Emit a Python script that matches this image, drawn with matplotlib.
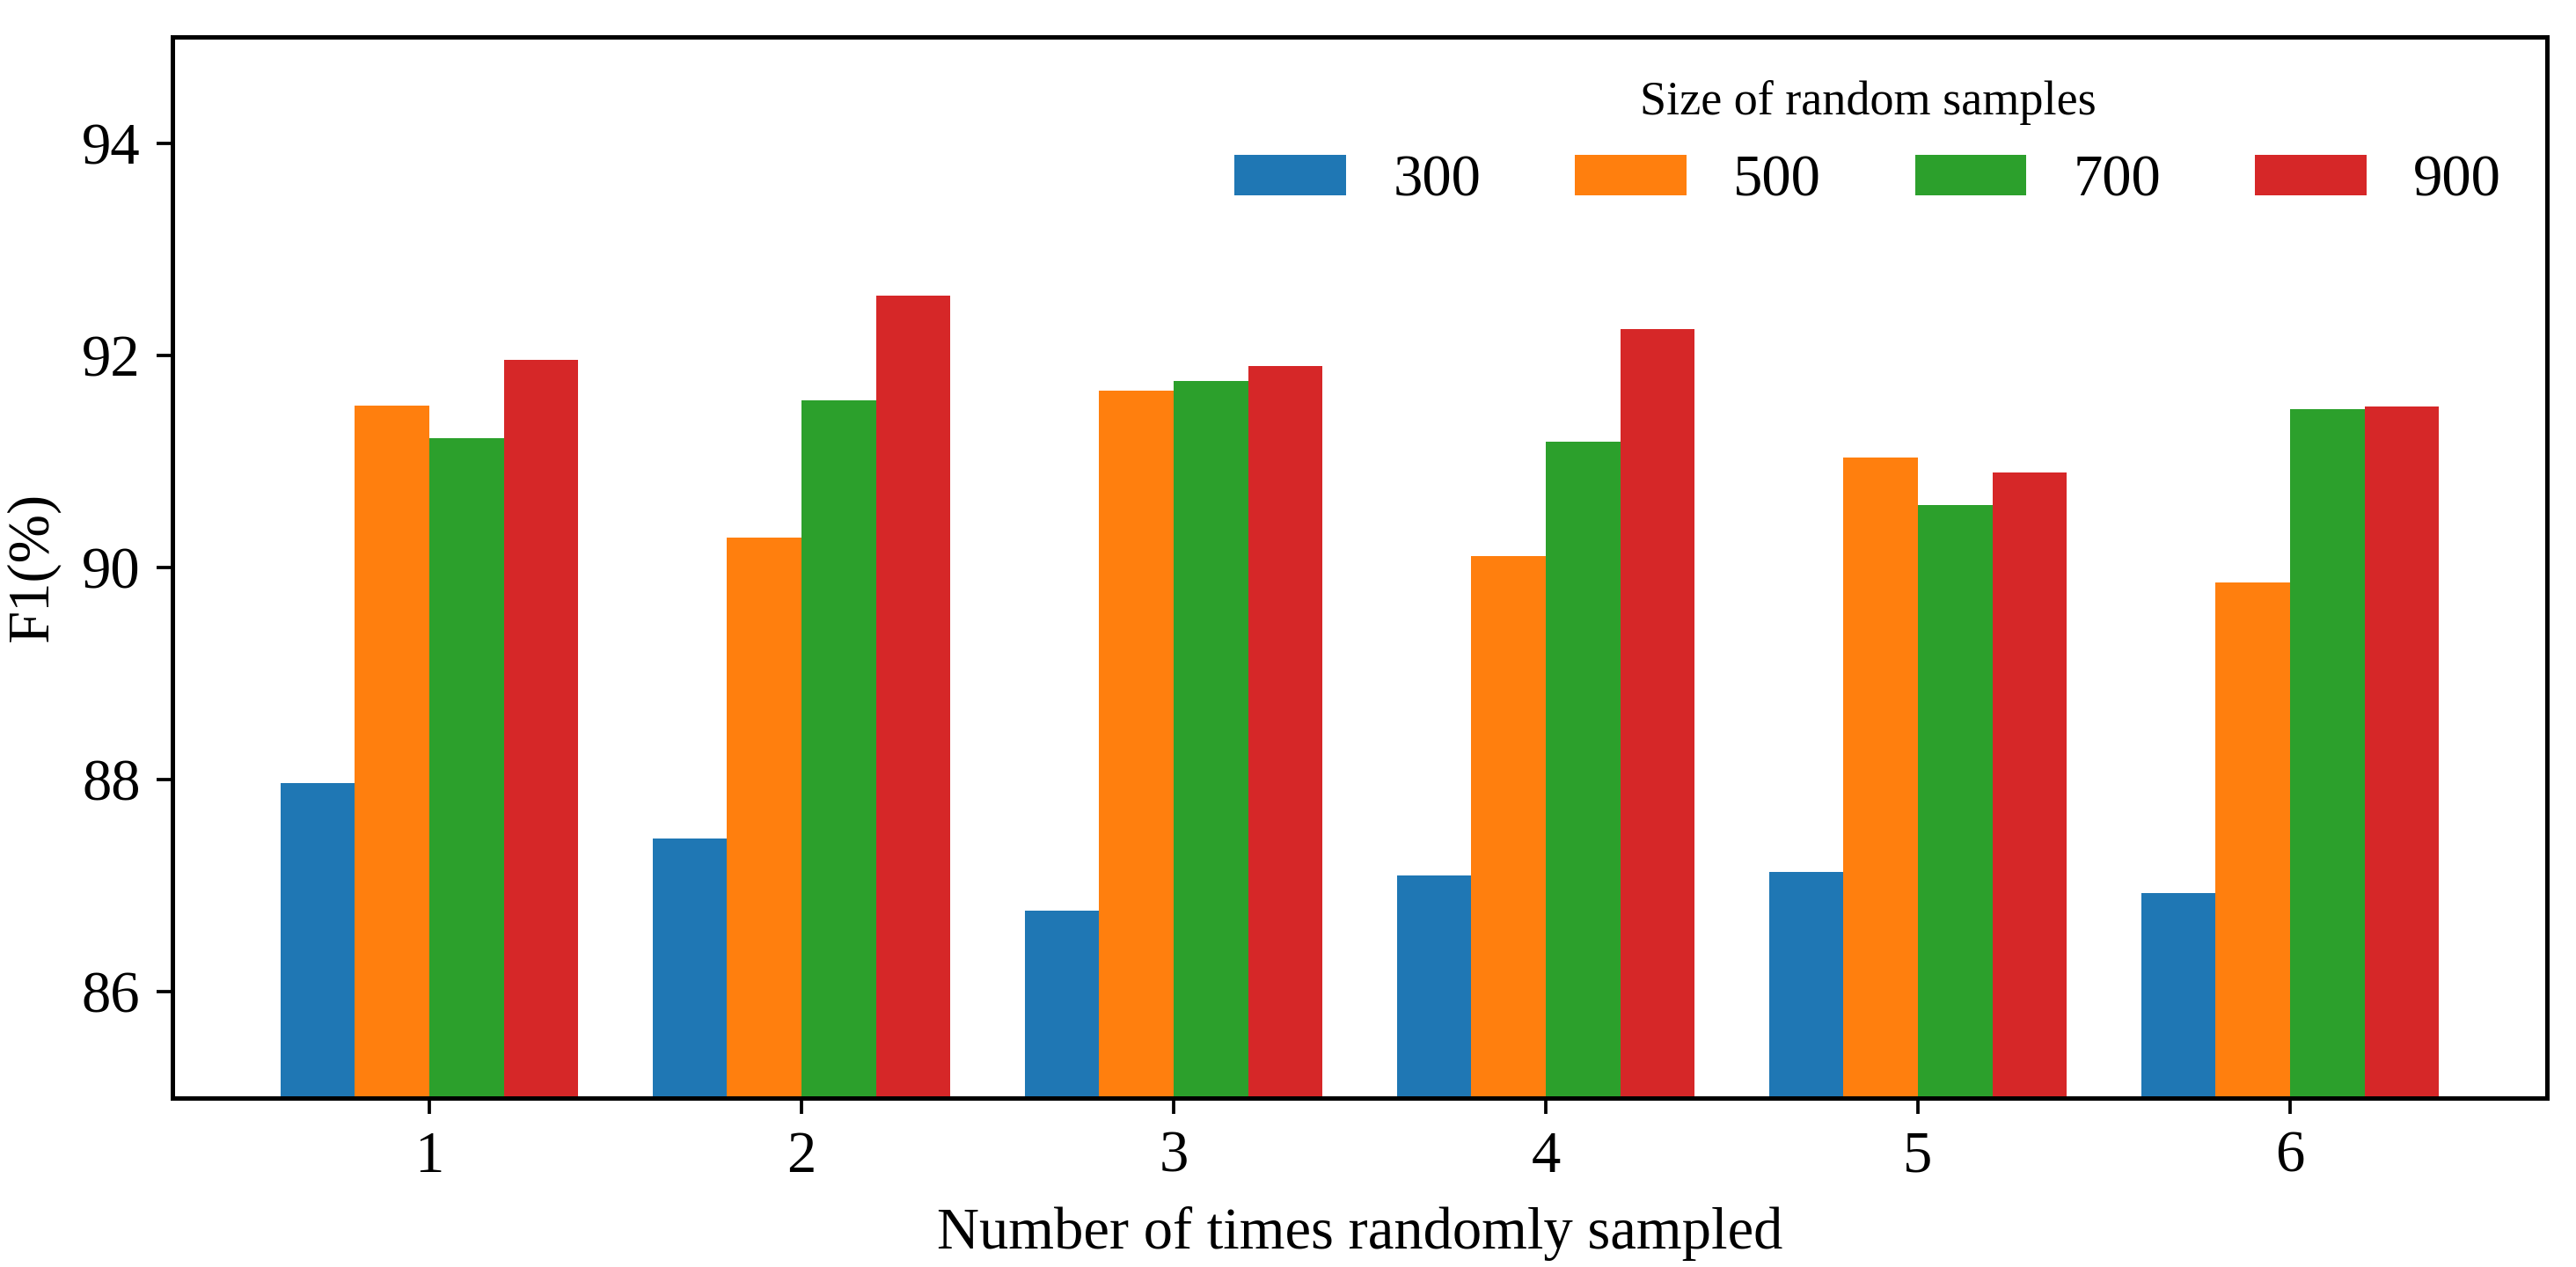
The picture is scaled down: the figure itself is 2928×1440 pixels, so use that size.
import matplotlib.pyplot as plt
import numpy as np

plt.rcParams["font.family"] = ["Liberation Serif", "DejaVu Serif"]

groups = [1, 2, 3, 4, 5, 6]
sizes = ["300", "500", "700", "900"]
f1_300 = [87.97, 87.45, 86.77, 87.10, 87.13, 86.93]
f1_500 = [91.53, 90.28, 91.67, 90.11, 91.04, 89.86]
f1_700 = [91.22, 91.58, 91.76, 91.19, 90.59, 91.49]
f1_900 = [91.96, 92.56, 91.90, 92.25, 90.90, 91.52]
colors = ["#1f77b4", "#ff7f0e", "#2ca02c", "#d62728"]

fig = plt.figure(figsize=(9.76, 4.8), dpi=300)
ax = fig.add_axes([0.067, 0.1333, 0.9217, 0.8375])

x = np.array(groups, dtype=float)
width = 0.2
for i, (vals, label) in enumerate(zip((f1_300, f1_500, f1_700, f1_900), sizes)):
    ax.bar(x + (i - 1.5) * width, vals, width, color=colors[i], label=label)

ax.set_ylim(85, 95)
ax.set_yticks([86, 88, 90, 92, 94])
ax.set_xticks(groups)
ax.tick_params(labelsize=16, length=4.3, width=0.9, pad=4.5)
for spine in ax.spines.values():
    spine.set_linewidth(1.2)

ax.set_xlabel("Number of times randomly sampled", fontsize=16, labelpad=6)
ax.set_ylabel("F1(%)", fontsize=16, labelpad=6)

ax.legend(title="Size of random samples", ncol=4, frameon=False, fontsize=16,
          title_fontsize=13, loc="upper right", bbox_to_anchor=(0.998, 0.998),
          columnspacing=1.6, handlelength=1.9, handletextpad=0.8,
          borderaxespad=0.3)

fig.savefig("out.png", dpi=300)
